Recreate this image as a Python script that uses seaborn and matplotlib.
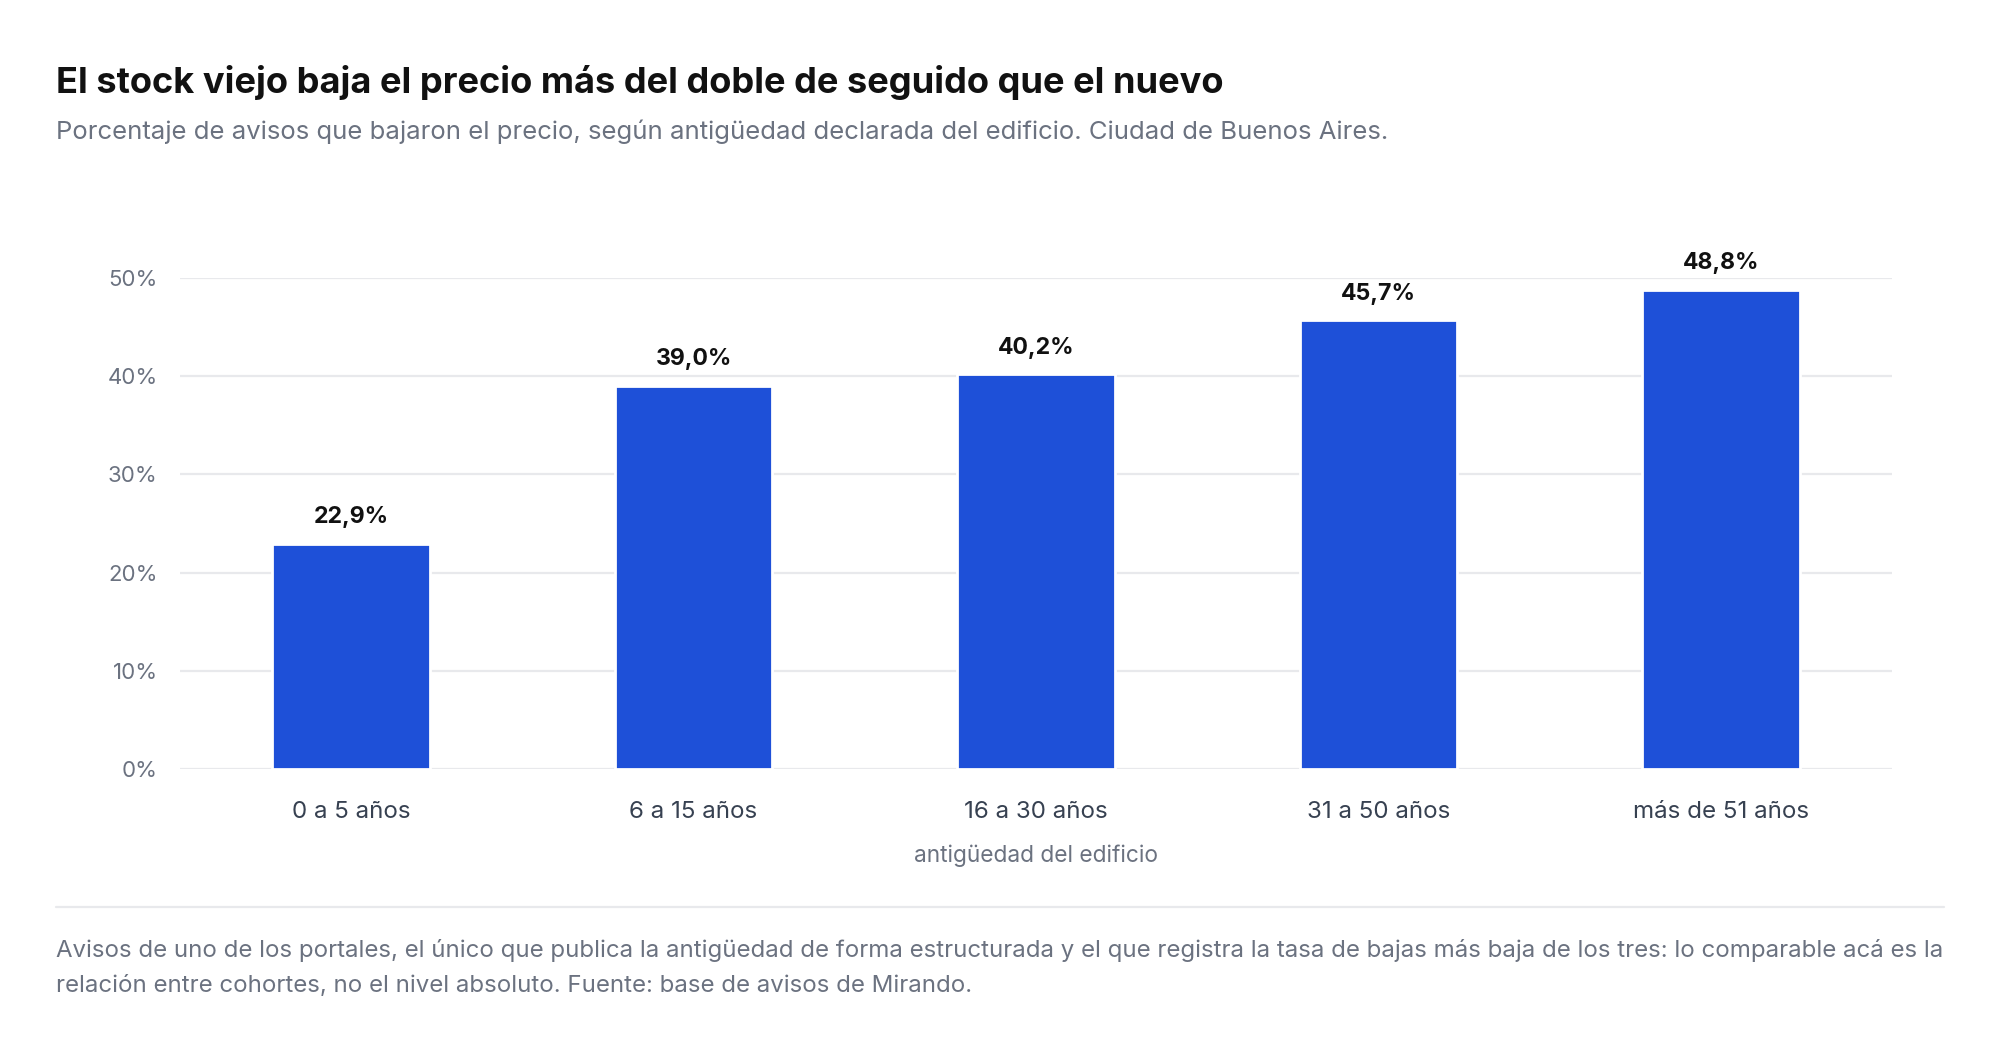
import matplotlib
matplotlib.use("Agg")
import matplotlib.pyplot as plt
import seaborn as sns
import pandas as pd
from matplotlib.lines import Line2D

# datos
categorias = ["0 a 5 años", "6 a 15 años", "16 a 30 años", "31 a 50 años", "más de 51 años"]
porcentajes = [22.9, 39.0, 40.2, 45.7, 48.8]
ticks_y = [0, 10, 20, 30, 40, 50]

titulo = "El stock viejo baja el precio más del doble de seguido que el nuevo"
subtitulo = ("Porcentaje de avisos que bajaron el precio, según antigüedad declarada "
             "del edificio. Ciudad de Buenos Aires.")
nota_1 = ("Avisos de uno de los portales, el único que publica la antigüedad de forma "
          "estructurada y el que registra la tasa de bajas más baja de los tres: lo comparable acá es la")
nota_2 = "relación entre cohortes, no el nivel absoluto. Fuente: base de avisos de Mirando."

AZUL = "#1E50D8"
GRIS = "#6B7280"
GRILLA = "#E8E9EC"

sns.set_style("white")
plt.rcParams["font.family"] = ["Inter", "DejaVu Sans"]

df = pd.DataFrame({"cohorte": categorias, "pct": porcentajes})

fig = plt.figure(figsize=(10, 5.23), dpi=200)
ax = fig.add_axes([0.090, 0.2648, 0.856, 0.4694])

sns.barplot(data=df, x="cohorte", y="pct", color=AZUL, saturation=1,
            width=0.46, ax=ax, zorder=3)

ax.set_xlim(-0.5, len(categorias) - 0.5)
ax.set_ylim(0, 50)
ax.set_yticks(ticks_y)
ax.set_yticklabels([f"{t}%" for t in ticks_y])
ax.grid(axis="y", color=GRILLA, linewidth=0.8, zorder=0)
ax.grid(axis="x", visible=False)
for s in ax.spines.values():
    s.set_visible(False)
ax.tick_params(axis="y", length=0, pad=8, labelsize=8, labelcolor=GRIS)
ax.tick_params(axis="x", length=0, pad=11.4, labelsize=8.7, labelcolor="#374151")
ax.set_xlabel("")
ax.set_ylabel("")

for i, v in enumerate(porcentajes):
    ax.annotate(f"{v:.1f}".replace(".", ",") + "%", (i, v),
                xytext=(0, 9.6), textcoords="offset points",
                ha="center", va="center", fontsize=8.3, fontweight="bold",
                color="#111111", annotation_clip=False)

ax_centro = (0.090 + 0.946) / 2
fig.text(ax_centro, 0.1816, "antigüedad del edificio", ha="center", va="center",
         fontsize=8.2, color=GRIS)

fig.text(0.028, 0.911, titulo, ha="left", va="baseline", fontsize=13.05,
         fontweight="bold", color="#111111")
fig.text(0.028, 0.867, subtitulo, ha="left", va="baseline", fontsize=9.25,
         color=GRIS)

fig.add_artist(Line2D([0.028, 0.972], [0.133, 0.133], color=GRILLA,
                      linewidth=0.8, transform=fig.transFigure))
fig.text(0.028, 0.091, nota_1, ha="left", va="center", fontsize=8.65, color=GRIS)
fig.text(0.028, 0.057, nota_2, ha="left", va="center", fontsize=8.65, color=GRIS)

fig.savefig("out.png", dpi=200, facecolor="white")
